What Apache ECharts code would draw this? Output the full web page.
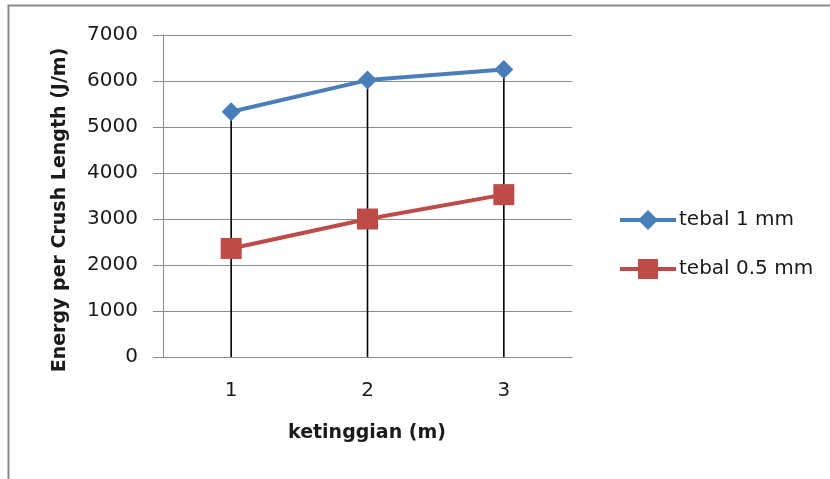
<!DOCTYPE html>
<html>
<head>
<meta charset="utf-8">
<script src="https://cdn.jsdelivr.net/npm/echarts@6/dist/echarts.min.js"></script>
<style>
  html, body { margin: 0; padding: 0; background: #fff; }
  #chart { width: 830px; height: 479px; }
</style>
</head>
<body>
<div id="chart"></div>
<script>
// Crush energy per unit length vs drop height, for two wall thicknesses
const categories = ['1', '2', '3'];
const tebal1mm = [5330, 6020, 6250];
const tebal05mm = [2360, 3000, 3530];
const yTicks = { min: 0, max: 7000, interval: 1000 };

const seriesNames = ['tebal 1 mm', 'tebal 0.5 mm'];
const xTitle = 'ketinggian (m)';
const yTitle = 'Energy per Crush Length (J/m)';

// Drop lines run from the upper series down to the axis
const dropLine = categories.map((c, i) => Math.max(tebal1mm[i], tebal05mm[i]));

const FONT = '"DejaVu Sans", sans-serif';
const chart = echarts.init(document.getElementById('chart'), null, { renderer: 'canvas' });

chart.setOption({
  backgroundColor: '#ffffff',
  animation: false,
  grid: { left: 163, right: 258, top: 35, bottom: 122, containLabel: false },
  legend: {
    orient: 'vertical',
    left: 613,
    top: 205,
    itemWidth: 56,
    itemHeight: 25,
    itemGap: 29,
    data: seriesNames,
    lineStyle: { width: 4 },
    textStyle: { fontFamily: FONT, fontSize: 20, color: '#1a1a1a', padding: [0, 0, 0, -2] }
  },
  xAxis: {
    type: 'category',
    data: categories,
    boundaryGap: true,
    axisLine: { lineStyle: { color: '#8c8c8c', width: 1 } },
    axisTick: { show: false },
    axisLabel: { fontFamily: FONT, fontSize: 20, color: '#1a1a1a', margin: 24 },
    splitLine: { show: false }
  },
  yAxis: {
    type: 'value',
    min: yTicks.min,
    max: yTicks.max,
    interval: yTicks.interval,
    axisLine: { show: true, lineStyle: { color: '#8c8c8c', width: 1 } },
    axisTick: { show: true, length: 10, lineStyle: { color: '#8c8c8c' } },
    axisLabel: { fontFamily: FONT, fontSize: 20, color: '#1a1a1a', margin: 25, formatter: v => String(v) },
    splitLine: { show: true, lineStyle: { color: '#8c8c8c', width: 1 } }
  },
  series: [
    {
      name: 'drop',
      type: 'bar',
      data: dropLine,
      barWidth: 1.6,
      itemStyle: { color: '#000000' },
      z: 1,
      silent: true
    },
    {
      name: seriesNames[0],
      type: 'line',
      data: tebal1mm,
      symbol: 'diamond',
      symbolSize: 19,
      lineStyle: { color: '#4a7ebb', width: 4 },
      itemStyle: { color: '#4a7ebb' },
      z: 3
    },
    {
      name: seriesNames[1],
      type: 'line',
      data: tebal05mm,
      symbol: 'rect',
      symbolSize: 21,
      lineStyle: { color: '#be4b48', width: 4 },
      itemStyle: { color: '#be4b48', borderRadius: 2 },
      z: 3
    }
  ],
  graphic: [
    {
      type: 'rect',
      shape: { x: 8.5, y: 5.5, width: 900, height: 600 },
      style: { fill: 'none', stroke: '#8a8a8a', lineWidth: 2 },
      z: 0
    },
    {
      type: 'text',
      x: 367, y: 433,
      style: { text: xTitle, font: 'bold 19px "DejaVu Sans", sans-serif', fill: '#1a1a1a', textAlign: 'center', textVerticalAlign: 'middle' }
    },
    {
      type: 'text',
      x: 60, y: 210,
      rotation: Math.PI / 2,
      style: { text: yTitle, font: 'bold 19px "DejaVu Sans", sans-serif', fill: '#1a1a1a', textAlign: 'center', textVerticalAlign: 'middle' }
    }
  ]
});
</script>
</body>
</html>
